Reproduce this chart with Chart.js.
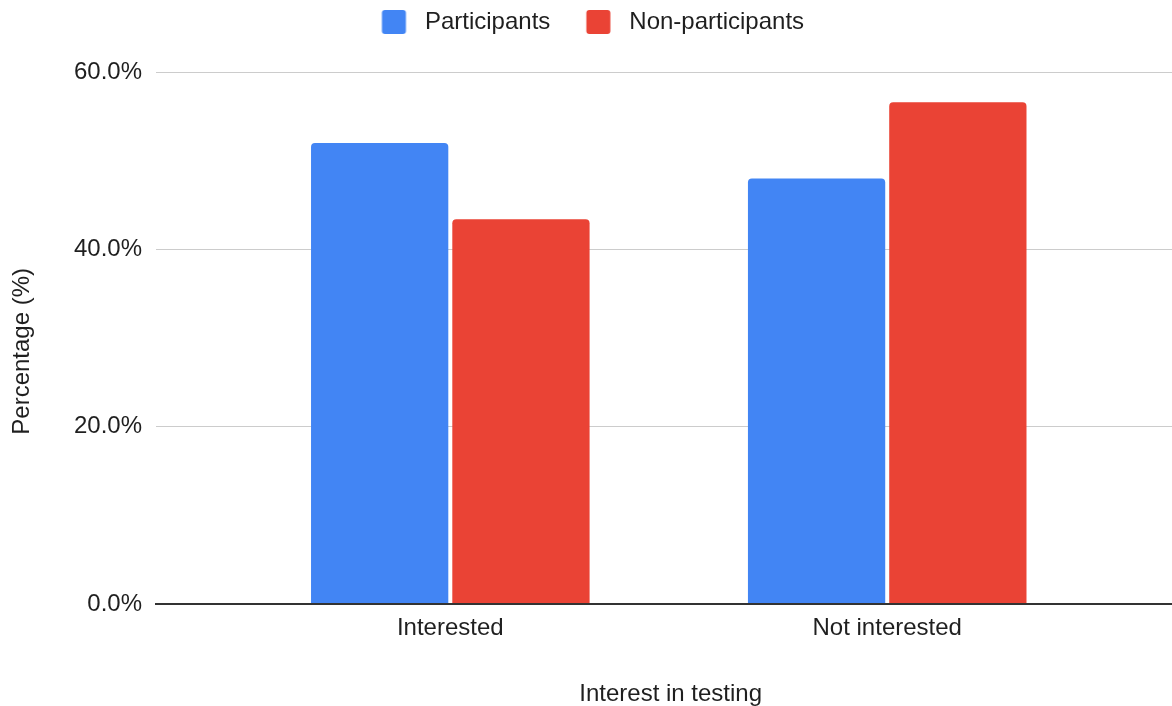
<!DOCTYPE html>
<html>
<head>
<meta charset="utf-8">
<title>Interest in testing</title>
<script src="https://cdn.jsdelivr.net/npm/chart.js@4.4.1/dist/chart.umd.min.js"></script>
<style>
  html, body { margin: 0; padding: 0; background: #ffffff; }
  canvas { display: block; }
</style>
</head>
<body>
<canvas id="chart" width="1172" height="706"></canvas>
<script>
// ---- data ----
const categories = ['Interested', 'Not interested'];
const participants = [52.0, 48.0];
const nonParticipants = [43.4, 56.6];
const seriesNames = ['Participants', 'Non-participants'];
const yTickValues = [0, 20, 40, 60];

// ---- style ----
const seriesColors = ['#4285F4', '#EA4335'];
const FONT = '"Liberation Sans", Arial, Helvetica, sans-serif';
const INK = '#1f1f1f';

// rounded colour square for the legend, placed inside a wider transparent canvas
function swatch(color) {
  const c = document.createElement('canvas');
  c.width = 50; c.height = 24;
  const g = c.getContext('2d');
  g.fillStyle = color;
  g.beginPath();
  g.roundRect(22.5, 0, 24, 24, 3);
  g.fill();
  return c;
}
const swatches = seriesColors.map(swatch);

const toPoints = vals => vals.map((v, i) => ({ x: i, y: v }));

// extra room between the legend and the plot, and a slightly narrower
// band for centring the legend row
const legendPlacement = {
  id: 'legendPlacement',
  beforeInit(chart) {
    const legend = chart.legend;
    const fit = legend.fit;
    legend.fit = function () { fit.call(this); this.height += 28; };
  },
  afterLayout(chart) {
    chart.legend.right -= 12;
  }
};

const barStyle = {
  borderRadius: 4,
  borderSkipped: 'start',
  categoryPercentage: 0.6467,
  barPercentage: 0.9717
};

new Chart(document.getElementById('chart'), {
  type: 'bar',
  data: {
    datasets: [
      Object.assign({ label: seriesNames[0], data: toPoints(participants), backgroundColor: seriesColors[0] }, barStyle),
      Object.assign({ label: seriesNames[1], data: toPoints(nonParticipants), backgroundColor: seriesColors[1] }, barStyle)
    ]
  },
  options: {
    responsive: false,
    animation: false,
    devicePixelRatio: 1,
    layout: { padding: 0 },
    plugins: {
      tooltip: { enabled: false },
      legend: {
        position: 'top',
        labels: {
          usePointStyle: true,
          pointStyleWidth: 57,
          padding: 10,
          color: INK,
          font: { size: 24, family: FONT },
          generateLabels(chart) {
            const items = Chart.defaults.plugins.legend.labels.generateLabels(chart);
            items.forEach((it, i) => { it.pointStyle = swatches[i]; });
            return items;
          }
        }
      }
    },
    scales: {
      x: {
        type: 'linear',
        bounds: 'data',
        offset: false,
        min: -0.6736,
        max: 1.6518,
        afterBuildTicks: s => { s.ticks = categories.map((_, i) => ({ value: i })); },
        afterFit: s => { s.height = 102; },
        grid: { display: false, drawTicks: false, offset: false },
        border: { display: true, color: '#333333', width: 2, z: 1 },
        ticks: {
          autoSkip: false,
          maxRotation: 0,
          padding: 10,
          color: INK,
          font: { size: 24, family: FONT },
          callback: v => categories[v]
        },
        title: {
          display: true,
          text: '  Interest in testing',
          color: INK,
          font: { size: 24, family: FONT, lineHeight: 1 },
          padding: { top: 0, bottom: 0 }
        }
      },
      y: {
        min: 0,
        max: 60,
        afterBuildTicks: s => { s.ticks = yTickValues.map(v => ({ value: v })); },
        afterFit: s => { s.width = 156; },
        grid: { color: '#cccccc', lineWidth: 1, drawTicks: false },
        border: { display: false },
        ticks: {
          padding: 14,
          color: INK,
          font: { size: 24, family: FONT },
          callback: v => v.toFixed(1) + '%'
        },
        title: {
          display: true,
          text: 'Percentage (%)    ',
          color: INK,
          font: { size: 24, family: FONT, lineHeight: 1 },
          padding: { top: 10, bottom: 0 }
        }
      }
    }
  },
  plugins: [legendPlacement]
});
</script>
</body>
</html>
